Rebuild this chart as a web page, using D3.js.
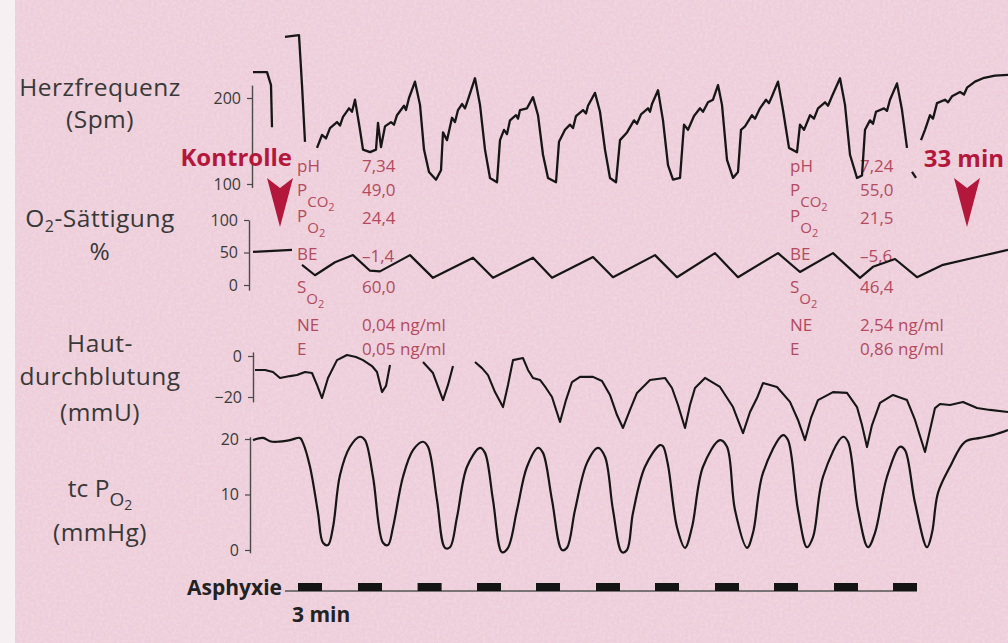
<!DOCTYPE html>
<html>
<head>
<meta charset="utf-8">
<script src="https://cdn.jsdelivr.net/npm/d3@7"></script>
<style>
body{margin:0;background:#eecfda;}
svg text{font-family:"Open Sans","Noto Sans",sans-serif;}
</style>
</head>
<body>
<div id="chart"></div>
<script>
const width = 1008, height = 643;
var svg;

// Zeit in min, 0 = Beginn der ersten Asphyxie
const timeDomain = [-2.25, 35.5];
const asphyxiaStarts = [0, 3.0, 5.98, 8.95, 11.9, 14.9, 17.85, 20.85, 23.8, 26.8, 29.75];
const asphyxiaLength = 1.2;
const markerTimes = [-0.9, 33.45];

const hfTicks = [100, 200];
const satTicks = [0, 50, 100];
const hautTicks = [-20, 0];
const tcTicks = [0, 10, 20];

const labNames = ['pH', 'PCO2', 'PO2', 'BE', 'SO2', 'NE', 'E'];
const labKontrolle = ['7,34', '49,0', '24,4', '–1,4', '60,0', '0,04 ng/ml', '0,05 ng/ml'];
const lab33min = ['7,24', '55,0', '21,5', '–5,6', '46,4', '2,54 ng/ml', '0,86 ng/ml'];

// Herzfrequenz (Spm), null = Lücke
const hfTrace = [
  [-2.25,230],[-1.55,230],[-1.35,215],[-1.3,166], null,
  [-0.65,271],[0.05,273],[0.2,215],[0.35,149], null,
  [0.95,142],[1.2,157],[1.4,153],[1.6,165],[1.95,172],[2.1,168],[2.25,178],[2.55,188],[2.7,184],[2.85,198],
  [3.1,163],[3.25,140],[3.6,137],[3.9,140],[4.0,171],[4.15,143],[4.35,167],[4.65,172],[4.8,169],[4.95,180],[5.3,191],[5.4,186],[5.55,200],[5.85,219],
  [6.1,192],[6.3,140],[6.55,114],[6.9,105],[7.15,116],[7.25,160],[7.45,151],[7.7,177],[7.85,172],[8.0,186],[8.2,193],[8.35,188],[8.5,198],[8.85,223],
  [9.1,192],[9.35,140],[9.6,107],[9.95,102],[10.1,151],[10.3,163],[10.45,158],[10.6,174],[10.9,180],[11.0,176],[11.1,186],[11.45,188],[11.75,201],
  [12.0,180],[12.25,134],[12.5,107],[12.9,102],[13.05,149],[13.35,163],[13.6,169],[13.75,165],[13.9,179],[14.25,186],[14.4,182],[14.5,191],[14.85,206],
  [15.1,184],[15.35,140],[15.6,107],[15.9,102],[16.1,151],[16.45,160],[16.8,174],[16.95,170],[17.15,181],[17.5,188],[17.6,184],[17.7,193],[18.0,209],
  [18.25,174],[18.5,122],[18.75,105],[19.1,107],[19.3,169],[19.5,163],[19.8,179],[20.1,188],[20.25,184],[20.5,195],[20.75,198],[21.0,215],
  [21.2,192],[21.45,128],[21.75,107],[22.0,114],[22.15,163],[22.35,167],[22.7,180],[22.85,176],[23.1,188],[23.4,198],[23.55,194],[23.7,202],[24.0,219],
  [24.25,186],[24.55,142],[24.95,137],[25.1,169],[25.3,163],[25.6,180],[25.8,176],[26.0,188],[26.35,195],[26.5,191],[26.7,202],[27.1,223],
  [27.35,192],[27.6,134],[27.95,107],[28.2,110],[28.35,163],[28.6,174],[28.75,170],[28.9,184],[29.3,188],[29.45,185],[29.6,198],[29.95,217],
  [30.2,186],[30.45,142], null,
  [30.7,114],[30.9,107], null,
  [31.15,151],[31.35,163],[31.6,180],[31.75,176],[31.95,194],[32.35,198],[32.5,195],[32.7,202],[33.1,207],[33.3,204],[33.45,212],[33.85,219],[34.25,223],[34.85,226],[35.5,227]
];

// O2-Sättigung (%)
const satTrace = [
  [-2.25,51],[-0.3,54], null,
  [0.2,31],[0.85,15],[1.85,35],[2.75,46],[3.6,22],[4.1,21],[5.6,46],[6.75,11],[8.75,42],[9.75,11],
  [11.75,42],[12.7,11],[14.75,43],[15.75,12],[17.85,46],[18.95,12],[20.85,49],[22.0,12],[24.0,49],
  [25.1,20],[26.75,49],[28.1,11],[28.75,28],[29.85,40],[30.95,12],[32.25,31],[33.95,43],[35.5,54]
];

// Hautdurchblutung (mmU)
const hautTrace = [
  [-2.15,-6.8],[-1.65,-6.8],[-1.25,-7.8],[-0.9,-10.7],[-0.4,-9.8],[-0.05,-9.3],[0.35,-7.8],[0.7,-8.3],[0.95,-14.1],[1.2,-20.5],
  [1.5,-10.7],[1.95,-2],[2.45,0.5],[2.9,-0.5],[3.25,-2],[3.7,-4.9],[3.95,-7.8],[4.2,-17.6],[4.4,-14.6],[4.6,-4.4], null,
  [6.25,-2.9],[6.75,-8.3],[7.25,-21.5],[7.5,-14.1],[7.75,-4.9], null,
  [8.85,-2.9],[9.2,-5.9],[9.5,-9.3],[9.85,-17.6],[10.25,-24.9],[10.5,-14.1],[10.75,-2],[11.25,-1],[11.5,-6.8],[11.75,-10.7],
  [12.1,-11.7],[12.4,-15.6],[12.7,-20],[13.1,-32.2],[13.4,-21.5],[13.7,-12.7],[14.1,-10.2],[14.75,-10.2],[15.2,-12.2],[15.6,-19],
  [15.95,-28.8],[16.25,-35.1],[16.6,-26.3],[16.95,-18],[17.6,-11.7],[18.35,-10.7],[18.7,-15.6],[19.0,-23.9],[19.35,-35.1],[19.6,-23.9],
  [19.85,-15.6],[20.35,-10.7],[21.1,-15.1],[21.75,-24.9],[22.25,-37.6],[22.6,-27.3],[22.95,-20.5],[23.25,-13.2],[23.95,-15.1],[24.6,-22.4],
  [25.0,-31.2],[25.35,-41],[25.65,-30.2],[26.0,-21.5],[26.75,-17.6],[27.45,-18],[27.95,-24.9],[28.2,-33.7],[28.45,-44.4],[28.7,-33.7],
  [29.1,-22.9],[29.75,-19],[30.45,-21.5],[30.85,-31.2],[31.35,-46.8],[31.6,-36.1],[31.85,-25.4],[32.1,-23.4],[32.6,-23.9],[33.25,-22.4],
  [33.95,-25.4],[34.6,-26.3],[35.5,-27.3]
];

// tc PO2 (mmHg)
const tcTrace = [
  [-2.25,19.8],[-1.75,20.2],[-1.4,19.6],[-1.05,19.5],[-0.4,19.8],[0.1,20.2],[0.25,19.3],[0.6,15.0],[1.0,6.7],[1.25,1.3],[1.5,0.9],[1.75,4.1],
  [2.1,13.5],[2.6,18.6],[3.1,20.4],[3.35,19.8],[3.75,13.2],[4.25,1.3],[4.5,0.9],[4.75,4.1],[5.25,13.2],[5.75,18.0],[6.25,19.5],[6.5,18.6],
  [6.95,9.0],[7.35,0.4],[7.6,0.5],[7.95,5.9],[8.45,15.0],[9.1,18.4],[9.35,17.5],[9.75,9.0],[10.2,-0.4],[10.5,0.4],[10.95,7.2],[11.45,15.0],
  [12.0,18.4],[12.25,17.5],[12.7,9.0],[13.2,0],[13.45,0.4],[13.85,7.2],[14.45,15.7],[15.0,18.4],[15.35,16.8],[15.75,7.2],[16.2,-0.4],[16.45,0],
  [16.75,6.7],[17.35,15.0],[18.1,18.9],[18.25,18.7],[18.5,15.3],[18.95,4.1],[19.35,0.4],[19.7,4.1],[20.25,15.0],[21.1,19.8],[21.45,18.6],
  [21.85,7.2],[22.45,0.4],[22.75,3.1],[23.25,13.9],[24.25,20.7],[24.5,19.8],[25.0,7.2],[25.45,0.5],[25.75,2.3],[26.25,13.2],[27.25,20.4],
  [27.5,19.5],[28.0,7.2],[28.5,0.5],[28.85,3.1],[29.45,13.2],[30.1,18.6],[30.35,18.0],[30.85,8.5],[31.45,0.5],[31.7,3.1],[32.0,10.3],
  [32.6,15.0],[33.35,19.5],[34.1,20.2],[34.75,20.7],[35.5,21.6]
];

var x, hfY, satY, hautY, tcY;

function setup(){
  svg = d3.select('#chart')
          .append('svg')
          .attr('width', width)
          .attr('height', height);

  const defs = svg.append('defs');
  const f = defs.append('filter').attr('id','paper').attr('x',0).attr('y',0).attr('width','100%').attr('height','100%');
  f.append('feTurbulence').attr('type','fractalNoise').attr('baseFrequency',0.35).attr('numOctaves',2).attr('seed',4);
  f.append('feColorMatrix').attr('values','0 0 0 0 1  0 0 0 0 1  0 0 0 0 1  0 0 0 -1.1 0.75');

  svg.append('rect').attr('width',width).attr('height',height).attr('fill','#edcdd9');
  svg.append('rect').attr('width',width).attr('height',height).attr('filter','url(#paper)').attr('opacity',0.35);
  svg.append('rect').attr('width',15).attr('height',height).attr('fill','#f7f0f3');
}

function setScales(){
  x = d3.scaleLinear().domain(timeDomain).range([253, 1008]);
  hfY = d3.scaleLinear().domain([100, 200]).range([184, 98]);
  satY = d3.scaleLinear().domain([0, 100]).range([285, 220]);
  hautY = d3.scaleLinear().domain([0, -20]).range([356, 397]);
  tcY = d3.scaleLinear().domain([0, 20]).range([550, 439]);
}

function drawAxis(scale, lo, hi, ticks, xPos){
  let s = scale.copy().domain([lo, hi]).range([scale(lo), scale(hi)]);
  let g = svg.append('g')
     .attr('transform', `translate(${xPos},0)`)
     .call(d3.axisLeft(s).tickValues(ticks).tickSize(5).tickSizeOuter(0).tickPadding(6).tickFormat(d3.format('d')));
  g.select('.domain').attr('stroke', '#4a4a4a').attr('stroke-width', 1.4);
  g.selectAll('.tick line').attr('stroke', '#4a4a4a').attr('stroke-width', 1.2);
  g.selectAll('.tick text').attr('fill', '#3a3a3a').style('font-size', '16px').style('font-family', '"Open Sans", sans-serif');
}

function drawTrace(data, yScale, curve, w){
  let line = d3.line()
    .defined(d => d !== null)
    .x(d => x(d[0]))
    .y(d => yScale(d[1]))
    .curve(curve);
  svg.append('path')
     .datum(data)
     .attr('d', line)
     .attr('fill', 'none')
     .attr('stroke', '#161616')
     .attr('stroke-width', w)
     .attr('stroke-linejoin', 'round');
}

function drawLabels(){
  const lab = [
    ['Herzfrequenz', 96], ['(Spm)', 128],
    ['%', 260],
    ['Haut-', 352], ['durchblutung', 385], ['(mmU)', 421],
    ['(mmHg)', 541]
  ];
  svg.selectAll('.ylab').data(lab).enter().append('text')
     .attr('x', 100).attr('y', d => d[1])
     .attr('text-anchor', 'middle')
     .attr('fill', '#383838')
     .style('font-size', '24.5px')
     .style('letter-spacing', '0.5px')
     .text(d => d[0]);

  let o2 = svg.append('text').attr('x', 100).attr('y', 227).attr('text-anchor','middle')
              .attr('fill','#383838').style('font-size','24.5px').style('letter-spacing', '0.5px');
  o2.append('tspan').text('O');
  o2.append('tspan').attr('dy', 5).style('font-size','16px').text('2');
  o2.append('tspan').attr('dy', -5).text('-Sättigung');

  let tc = svg.append('text').attr('x', 100).attr('y', 497).attr('text-anchor','middle')
              .attr('fill','#383838').style('font-size','24.5px');
  tc.append('tspan').text('tc P');
  tc.append('tspan').attr('dy', 9).style('font-size','19px').text('O');
  tc.append('tspan').attr('dy', 4).style('font-size','14px').text('2');
}

function labName(sel, name){
  if (name.length > 2 && name.endsWith('2')) {
    sel.append('tspan').text(name[0]);
    sel.append('tspan').attr('dy', 11).style('font-size','15px').text(name.slice(1, -1));
    sel.append('tspan').attr('dy', 4).style('font-size','11px').text('2');
  } else {
    sel.text(name);
  }
}

function drawLab(values, xName, xVal){
  const rows = [172, 196, 222, 260, 293, 331, 355];
  labNames.forEach((n, i) => {
    let t = svg.append('text').attr('x', xName).attr('y', rows[i])
               .attr('fill', '#b34a60').style('font-size', '17px');
    labName(t, n);
    svg.append('text').attr('x', xVal).attr('y', rows[i] + (i == 2 || i == 3 ? 2 : 0))
       .attr('fill', '#b34a60').style('font-size', '17px')
       .text(values[i]);
  });
}

function drawMarkers(){
  const red = '#b3183c';
  svg.append('text').attr('x', 292).attr('y', 166).attr('text-anchor','end')
     .attr('fill', red).style('font-size','24px').style('font-weight','bold').text('Kontrolle');
  svg.append('text').attr('x', 1004).attr('y', 167).attr('text-anchor','end')
     .attr('fill', red).style('font-size','24px').style('font-weight','bold').text('33 min');
  markerTimes.forEach(t => {
    let cx = x(t);
    svg.append('path')
       .attr('d', `M${cx-13},178 L${cx},188 L${cx+13},178 L${cx},227 Z`)
       .attr('fill', red);
  });
}

function drawAsphyxia(){
  svg.append('line')
     .attr('x1', x(-0.65)).attr('x2', x(30.95))
     .attr('y1', 591).attr('y2', 591)
     .attr('stroke', '#555').attr('stroke-width', 1.5);
  svg.selectAll('.asph').data(asphyxiaStarts).enter().append('rect')
     .attr('x', d => x(d))
     .attr('width', d => x(d + asphyxiaLength) - x(d))
     .attr('y', 583).attr('height', 8)
     .attr('fill', '#141414');
  svg.append('text').attr('x', 282).attr('y', 595).attr('text-anchor','end')
     .attr('fill','#222').style('font-size','21px').style('font-weight','bold').text('Asphyxie');
  svg.append('text').attr('x', 292).attr('y', 622)
     .attr('fill','#222').style('font-size','21px').style('font-weight','bold').text('3 min');
}

setup();
setScales();
drawAxis(hfY, 96, 215, hfTicks, 252);
drawAxis(satY, -8, 100, satTicks, 249);
drawAxis(hautY, -22.4, 2, hautTicks, 253);
drawAxis(tcY, -0.5, 20.4, tcTicks, 250);
drawLabels();
drawLab(labKontrolle, 297, 362);
drawLab(lab33min, 790, 860);
drawTrace(hfTrace, hfY, d3.curveLinear, 2.3);
drawTrace(satTrace, satY, d3.curveLinear, 2.2);
drawTrace(hautTrace, hautY, d3.curveLinear, 2.1);
drawTrace(tcTrace, tcY, d3.curveCatmullRom.alpha(0.5), 2.2);
drawMarkers();
drawAsphyxia();
</script>
</body>
</html>
